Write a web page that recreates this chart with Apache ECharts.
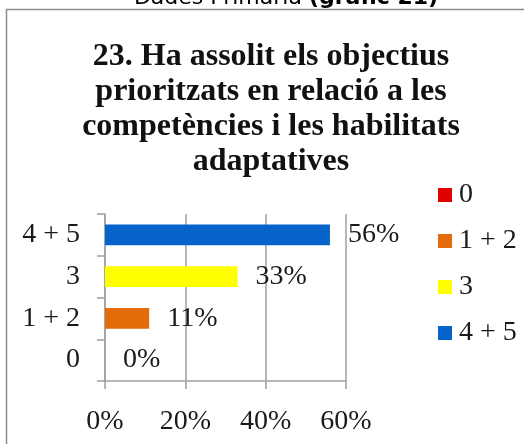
<!DOCTYPE html>
<html>
<head>
<meta charset="utf-8">
<script src="https://cdn.jsdelivr.net/npm/echarts@6/dist/echarts.min.js"></script>
<style>
  html, body { margin: 0; padding: 0; background: #fff; }
  #chart { width: 524px; height: 444px; }
</style>
</head>
<body>
<div id="chart"></div>
<script>
// dades del gràfic
var categories = ['0', '1 + 2', '3', '4 + 5'];
var values = [0, 11, 33, 56];
var colors = ['#e00000', '#e46c0a', '#ffff00', '#0563c9'];
var xTicks = [0, 20, 40, 60];

var serif = '"Liberation Serif", serif';

var chart = echarts.init(document.getElementById('chart'));

// una serie per categoria, així la llegenda mostra les quatre
var series = categories.map(function (name, i) {
  return {
    name: name,
    type: 'bar',
    stack: 'total',
    barWidth: '50%',
    itemStyle: { color: colors[i] },
    label: {
      show: true,
      position: 'right',
      distance: 18,
      formatter: '{c}%',
      fontFamily: serif,
      fontSize: 28,
      color: '#1a1a1a'
    },
    data: categories.map(function (c, j) { return j === i ? values[i] : '-'; })
  };
});

chart.setOption({
  animation: false,
  title: {
    text: '23. Ha assolit els objectius\nprioritzats en relació a les\ncompetències i les habilitats\nadaptatives',
    left: 266,
    textAlign: 'center',
    top: 34,
    textStyle: {
      fontFamily: serif,
      fontWeight: 'bold',
      fontSize: 32,
      lineHeight: 35,
      color: '#111'
    }
  },
  legend: {
    orient: 'vertical',
    left: 433,
    top: 176,
    icon: 'rect',
    itemWidth: 14,
    itemHeight: 14,
    itemGap: 18,
    textStyle: { fontFamily: serif, fontSize: 28, lineHeight: 22, color: '#1a1a1a', padding: [6, 0, 0, 2] },
    data: categories
  },
  grid: { left: 105, right: 178, top: 214, bottom: 63 },
  xAxis: {
    type: 'value',
    min: 0,
    max: 60,
    interval: 20,
    axisLine: { show: true, lineStyle: { color: '#a0a0a0', width: 1.5 } },
    axisTick: { show: true, length: 8, lineStyle: { color: '#a0a0a0', width: 1.5 } },
    splitLine: { show: true, lineStyle: { color: '#a0a0a0', width: 1.5 } },
    axisLabel: {
      margin: 27,
      fontFamily: serif,
      fontSize: 28,
      color: '#1a1a1a',
      formatter: function (v) { return xTicks.indexOf(v) >= 0 ? v + '%' : ''; }
    }
  },
  yAxis: {
    type: 'category',
    data: categories,
    axisLine: { show: true, lineStyle: { color: '#a0a0a0', width: 1.5 } },
    axisTick: { show: true, length: 8, lineStyle: { color: '#a0a0a0', width: 1.5 } },
    axisLabel: { margin: 25, fontFamily: serif, fontSize: 28, color: '#1a1a1a' }
  },
  graphic: [
    {
      type: 'rect',
      silent: true,
      shape: { x: 6.5, y: 9.5, width: 700, height: 700 },
      style: { fill: null, stroke: '#8c8c8c', lineWidth: 1.5 }
    },
    {
      type: 'text',
      silent: true,
      x: 286,
      y: 9,
      style: {
        text: '{n|Dades Primària }{b|(gràfic 21)}',
        align: 'center',
        verticalAlign: 'bottom',
        rich: {
          n: { fontFamily: '"DejaVu Sans", sans-serif', fontSize: 22, color: '#111' },
          b: { fontFamily: '"DejaVu Sans", sans-serif', fontSize: 22, fontWeight: 'bold', color: '#111' }
        }
      }
    }
  ],
  series: series
});
</script>
</body>
</html>
